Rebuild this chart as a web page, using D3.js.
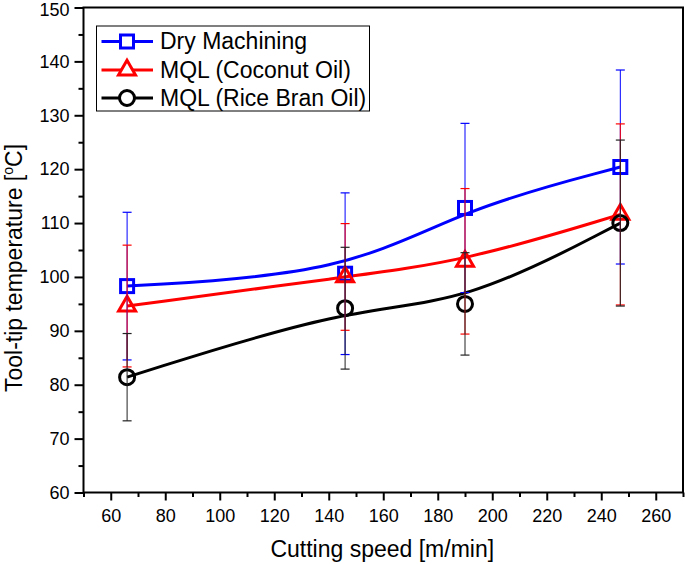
<!DOCTYPE html>
<html>
<head>
<meta charset="utf-8">
<script src="https://cdn.jsdelivr.net/npm/d3@7/dist/d3.min.js"></script>
<style>
  html, body { margin: 0; padding: 0; background: #fff; }
  svg { display: block; }
  text { font-family: "Liberation Sans", Arial, Helvetica, sans-serif; }
</style>
</head>
<body>
<svg id="chart" width="685" height="564"></svg>
<script>
// ---- data ----
const speeds = [66, 146, 190, 247];
const seriesNames = ["Dry Machining", "MQL (Coconut Oil)", "MQL (Rice Bran Oil)"];
const dryTemp = [98.3, 100.6, 112.8, 120.4];
const dryErr = [13.7, 15.0, 15.7, 18.0];
const coconutTemp = [94.6, 100.0, 102.9, 111.6];
const coconutErr = [11.3, 9.9, 13.5, 16.8];
const riceTemp = [81.4, 94.2, 95.0, 110.0];
const riceErr = [8.1, 11.3, 9.5, 15.4];
const xMajorTicks = [60, 80, 100, 120, 140, 160, 180, 200, 220, 240, 260];
const yMajorTicks = [60, 70, 80, 90, 100, 110, 120, 130, 140, 150];

const series = [
  { name: seriesNames[0], y: dryTemp, err: dryErr, color: "#0000ff", marker: "square" },
  { name: seriesNames[1], y: coconutTemp, err: coconutErr, color: "#ff0000", marker: "triangle" },
  { name: seriesNames[2], y: riceTemp, err: riceErr, color: "#000000", marker: "circle" }
];

(function () {
const svg = d3.select("#chart");
const pL = 83.5, pR = 683, pT = 7.5, pB = 492.5;
const x = d3.scaleLinear().domain([50, 270]).range([pL, pR]);
const y = d3.scaleLinear().domain([60, 150]).range([pB, pT]);

const xMinor = d3.range(50, 271, 10).filter(v => !xMajorTicks.includes(v));
const yMinor = d3.range(60, 151, 5).filter(v => !yMajorTicks.includes(v));

// minor ticks
svg.append("g").attr("transform", `translate(0,${pB})`)
  .call(d3.axisBottom(x).tickValues(xMinor).tickSize(4.5).tickFormat(""))
  .call(g => g.select(".domain").remove())
  .call(g => g.selectAll("line").attr("stroke", "#000").attr("stroke-width", 2));
svg.append("g").attr("transform", `translate(${pL},0)`)
  .call(d3.axisLeft(y).tickValues(yMinor).tickSize(5).tickFormat(""))
  .call(g => g.select(".domain").remove())
  .call(g => g.selectAll("line").attr("stroke", "#000").attr("stroke-width", 2));

// major ticks
const xAxis = svg.append("g").attr("transform", `translate(0,${pB})`)
  .call(d3.axisBottom(x).tickValues(xMajorTicks).tickSize(8).tickPadding(9).tickSizeOuter(0))
  .call(g => g.select(".domain").remove())
  .call(g => g.selectAll("line").attr("stroke", "#000").attr("stroke-width", 2));
xAxis.selectAll("text").attr("font-size", 18).attr("fill", "#000")
  .attr("font-family", "Liberation Sans, Arial, sans-serif");

const yAxis = svg.append("g").attr("transform", `translate(${pL},0)`)
  .call(d3.axisLeft(y).tickValues(yMajorTicks).tickSize(9).tickPadding(5).tickSizeOuter(0))
  .call(g => g.select(".domain").remove())
  .call(g => g.selectAll("line").attr("stroke", "#000").attr("stroke-width", 2));
yAxis.selectAll("text").attr("font-size", 18).attr("fill", "#000")
  .attr("font-family", "Liberation Sans, Arial, sans-serif");
yAxis.selectAll(".tick").filter(d => d === 150).select("text").attr("dy", "0.45em");

// frame
svg.append("rect").attr("x", pL).attr("y", pT)
  .attr("width", pR - pL).attr("height", pB - pT)
  .attr("fill", "none").attr("stroke", "#000").attr("stroke-width", 2);

// axis titles
svg.append("text").attr("x", (pL + pR) / 2 - 1).attr("y", 557)
  .attr("text-anchor", "middle").attr("font-size", 23).attr("fill", "#000")
  .text("Cutting speed [m/min]");

const yl = svg.append("text")
  .attr("transform", `translate(22,${268}) rotate(-90)`)
  .attr("text-anchor", "middle").attr("font-size", 23).attr("fill", "#000");
yl.append("tspan").text("Tool-tip temperature [");
yl.append("tspan").attr("font-size", 14).attr("dy", -9).text("o");
yl.append("tspan").attr("dy", 9).text("C]");

// marker drawing
function drawMarker(g, type, cx, cy, color) {
  if (type === "square") {
    return g.append("rect").attr("x", cx - 6.5).attr("y", cy - 6.5).attr("width", 13).attr("height", 13)
      .attr("fill", "none").attr("stroke", color).attr("stroke-width", 3);
  } else if (type === "triangle") {
    const s = 17;
    const h = s * Math.sqrt(3) / 2;
    const pts = [[cx, cy - h * 2 / 3], [cx + s / 2, cy + h / 3], [cx - s / 2, cy + h / 3]];
    return g.append("path").attr("d", "M" + pts.map(p => p.join(",")).join("L") + "Z")
      .attr("fill", "none").attr("stroke", color).attr("stroke-width", 3).attr("stroke-linejoin", "miter");
  } else {
    return g.append("circle").attr("cx", cx).attr("cy", cy).attr("r", 7.5)
      .attr("fill", "none").attr("stroke", color).attr("stroke-width", 3);
  }
}

const line = d3.line().x(d => x(d[0])).y(d => y(d[1])).curve(d3.curveBasis);

const plot = svg.append("g");
series.forEach(s => {
  plot.append("path").datum(speeds.map((v, i) => [v, s.y[i]]))
    .attr("d", line).attr("fill", "none").attr("stroke", s.color).attr("stroke-width", 3);
});
series.forEach(s => {
  speeds.forEach((v, i) => drawMarker(plot, s.marker, x(v), y(s.y[i]), s.color));
});
series.forEach(s => {
  const ec = s.color === "#000000" ? "#222" : s.color;
  speeds.forEach((v, i) => {
    const cx = x(v), y1 = y(s.y[i] + s.err[i]), y0 = y(s.y[i] - s.err[i]);
    plot.append("line").attr("x1", cx).attr("x2", cx).attr("y1", y1).attr("y2", y0)
      .attr("stroke", ec).attr("stroke-width", 1);
    [y0, y1].forEach(yy => plot.append("line").attr("x1", cx - 4.5).attr("x2", cx + 4.5)
      .attr("y1", yy).attr("y2", yy).attr("stroke", ec).attr("stroke-width", 1.2));
  });
});

// legend
const lg = svg.append("g");
lg.append("rect").attr("x", 96.5).attr("y", 26).attr("width", 273).attr("height", 85)
  .attr("fill", "#fff").attr("stroke", "#000").attr("stroke-width", 1);
const rowY = [41.5, 70, 98];
series.forEach((s, i) => {
  const cy = rowY[i];
  lg.append("line").attr("x1", 101.5).attr("x2", 153).attr("y1", cy).attr("y2", cy)
    .attr("stroke", s.color).attr("stroke-width", 3);
  drawMarker(lg, s.marker, 127, cy, s.color).attr("fill", "#fff");
  lg.append("text").attr("x", 160).attr("y", cy + 7.5).attr("font-size", 23).attr("fill", "#000")
    .text(s.name);
});
})();
</script>
</body>
</html>
